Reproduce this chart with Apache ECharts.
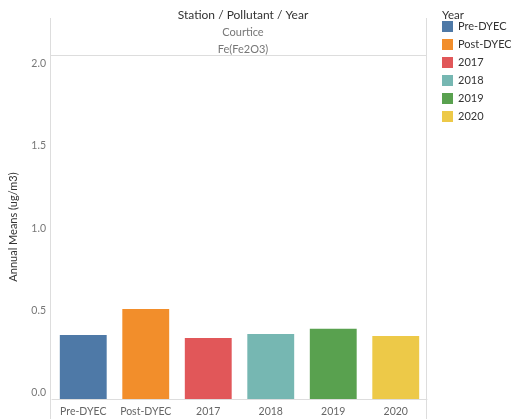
<!DOCTYPE html>
<html>
<head>
<meta charset="utf-8">
<script src="https://cdn.jsdelivr.net/npm/echarts@6/dist/echarts.min.js"></script>
<style>
html,body{margin:0;padding:0;background:#fff;}
#chart{width:511px;height:419px;}
</style>
</head>
<body>
<div id="chart"></div>
<script>
var categories = ['Pre-DYEC', 'Post-DYEC', '2017', '2018', '2019', '2020'];
var values = [0.389, 0.547, 0.371, 0.395, 0.427, 0.384];
var colors = ['#4e79a7', '#f28e2b', '#e15759', '#76b7b2', '#59a14f', '#edc948'];
var yTicks = [0, 0.5, 1.0, 1.5, 2.0];

var FONT = 'Lato';
var series = categories.map(function (name, i) {
  return {
    name: name,
    type: 'bar',
    stack: 'all',
    barWidth: '75%',
    itemStyle: { color: colors[i] },
    data: categories.map(function (c, j) { return j === i ? values[i] : '-'; })
  };
});

var chart = echarts.init(document.getElementById('chart'));
chart.setOption({
  animation: false,
  textStyle: { fontFamily: FONT },
  title: [
    { text: 'Station / Pollutant / Year', left: 238, top: 4, textAlign: 'center',
      textStyle: { fontSize: 12, fontWeight: 'normal', color: '#333', fontFamily: FONT } },
    { text: 'Courtice', left: 238, top: 22, textAlign: 'center',
      textStyle: { fontSize: 11, fontWeight: 'normal', color: '#777', fontFamily: FONT } },
    { text: 'Fe(Fe2O3)', left: 238, top: 39, textAlign: 'center',
      textStyle: { fontSize: 11, fontWeight: 'normal', color: '#777', fontFamily: FONT } },
    { text: 'Year', left: 437, top: 4,
      textStyle: { fontSize: 11.5, fontWeight: 'normal', color: '#333', fontFamily: FONT } }
  ],
  legend: {
    data: categories,
    orient: 'vertical',
    left: 437,
    top: 16,
    icon: 'rect',
    itemWidth: 11,
    itemHeight: 11,
    itemGap: 7,
    textStyle: { fontSize: 11, color: '#333', fontFamily: FONT },
    selectedMode: false
  },
  grid: { left: 50, right: 84, top: 55, bottom: 20, containLabel: false },
  xAxis: {
    type: 'category',
    data: categories,
    axisLine: { show: true, lineStyle: { color: '#ddd' } },
    axisTick: { show: false },
    axisLabel: { interval: 0, fontSize: 10.5, color: '#666', margin: 7, fontFamily: FONT }
  },
  yAxis: {
    type: 'value',
    min: 0,
    max: 2.093,
    interval: 0.5,
    name: 'Annual Means (ug/m3)',
    nameLocation: 'middle',
    nameGap: 33,
    nameTextStyle: { fontSize: 11, color: '#333', fontFamily: FONT },
    axisLine: { show: false },
    axisTick: { show: false },
    splitLine: { show: false },
    axisLabel: {
      fontSize: 10.5, color: '#777', margin: 6, fontFamily: FONT,
      showMaxLabel: false,
      verticalAlign: 'bottom',
      padding: [0, 0, 1, 0],
      formatter: function (v) {
        for (var k = 0; k < yTicks.length; k++) {
          if (Math.abs(yTicks[k] - v) < 1e-6) return yTicks[k].toFixed(1);
        }
        return '';
      }
    }
  },
  graphic: [
    { type: 'line', shape: { x1: 50.5, y1: 18, x2: 50.5, y2: 419 }, style: { stroke: '#ddd', lineWidth: 1 } },
    { type: 'line', shape: { x1: 426.5, y1: 18, x2: 426.5, y2: 419 }, style: { stroke: '#ddd', lineWidth: 1 } },
    { type: 'line', shape: { x1: 50, y1: 55.5, x2: 426, y2: 55.5 }, style: { stroke: '#ddd', lineWidth: 1 } }
  ],
  series: series
});
</script>
</body>
</html>
